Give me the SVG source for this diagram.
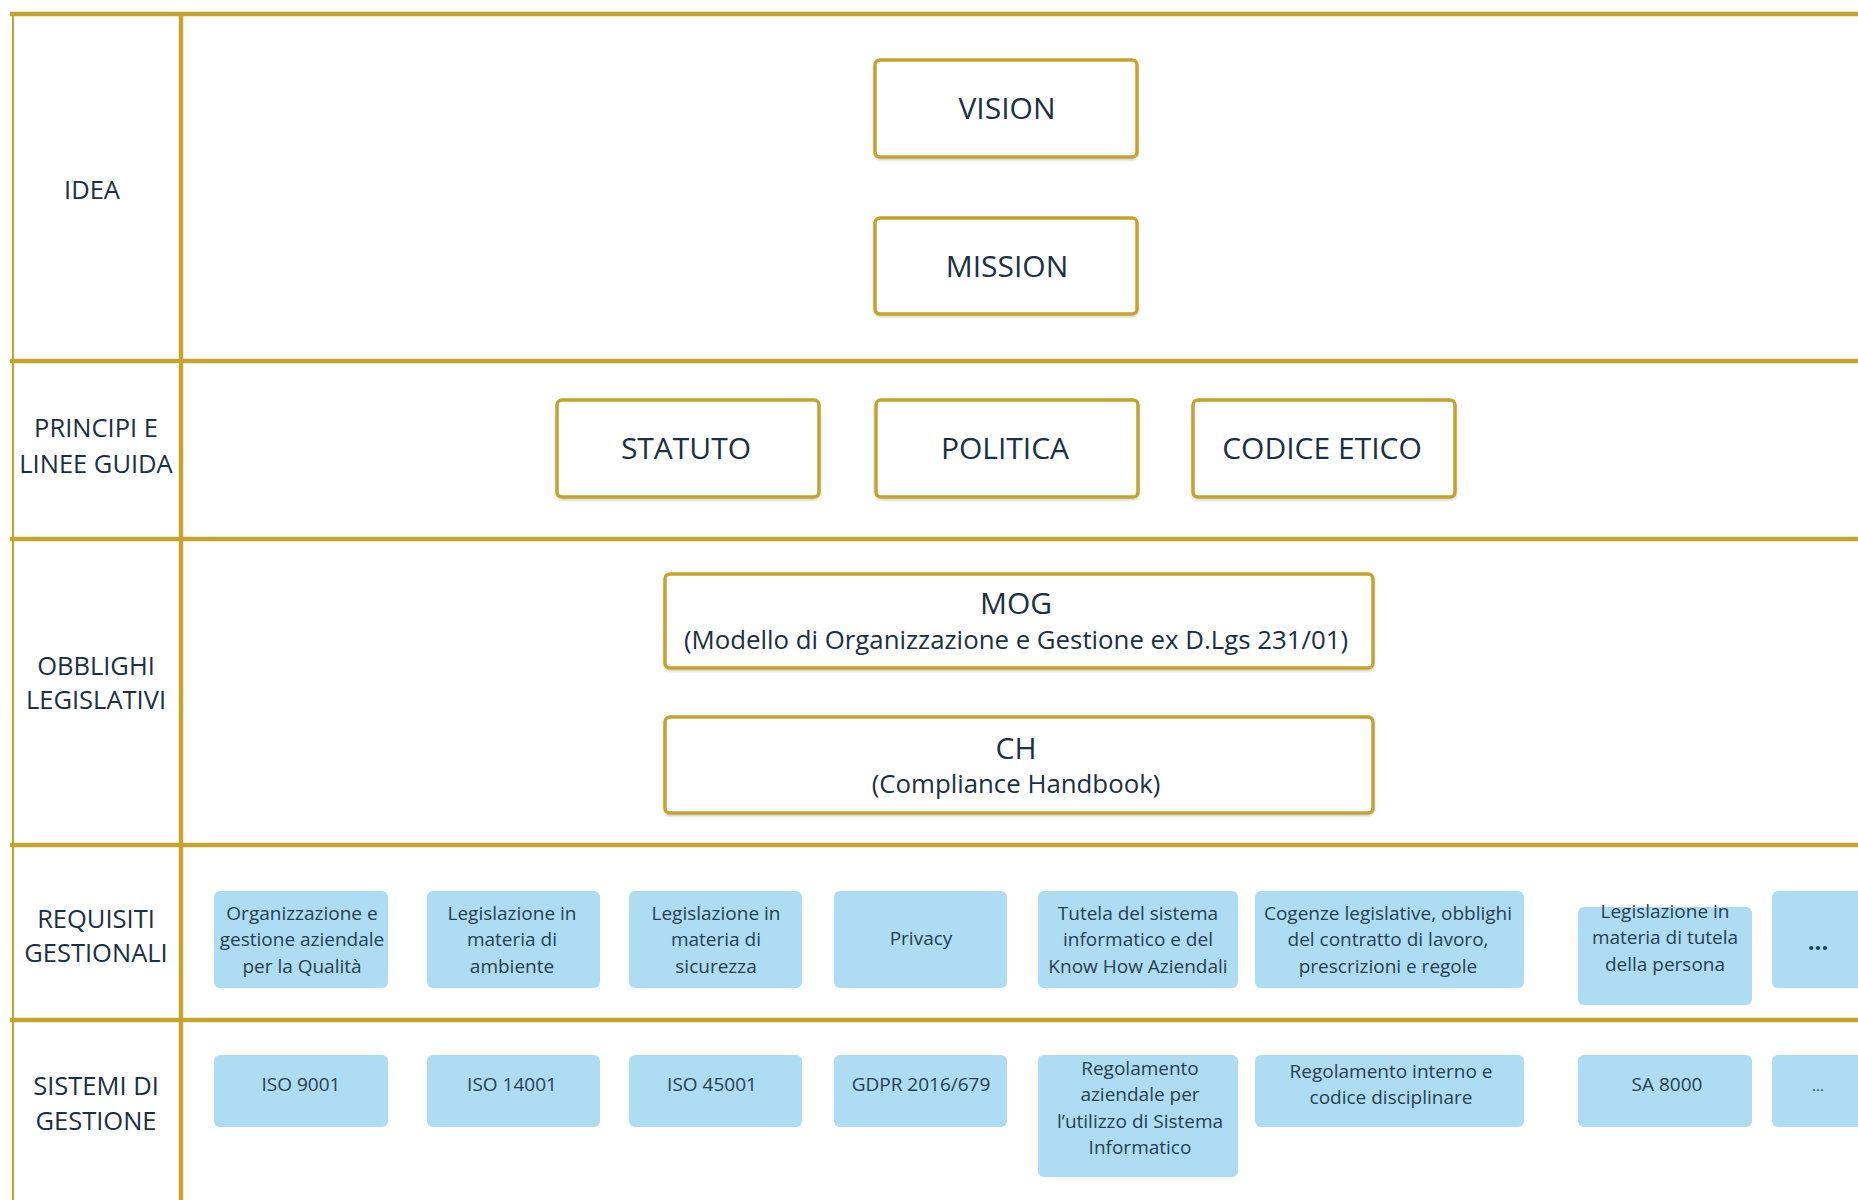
<svg xmlns="http://www.w3.org/2000/svg" width="1858" height="1200" viewBox="0 0 1858 1200">
<defs>
<filter id="sh" x="-5%" y="-5%" width="110%" height="115%"><feDropShadow dx="0" dy="1.5" stdDeviation="1.2" flood-color="#000" flood-opacity="0.18"/></filter>
</defs>
<style>
.grid{stroke:#C4A42C;fill:none}
.gb{fill:#fff;stroke:#C4A42C;stroke-width:3.5}
.bb{fill:#AEDCF2}
.hd{font-family:"Open Sans","Noto Sans",sans-serif;font-size:25.5px;fill:#1B3042;text-anchor:middle}
.big{font-family:"Open Sans","Noto Sans",sans-serif;font-size:30px;fill:#1B3042;text-anchor:middle}
.sub{font-family:"Open Sans","Noto Sans",sans-serif;font-size:25.8px;fill:#1B3042;text-anchor:middle}
.sm{font-family:"Open Sans","Noto Sans",sans-serif;font-size:19px;fill:#26405292;fill:#264052;text-anchor:middle}
</style>
<rect width="1858" height="1200" fill="#fff"/>
<g id="connectors">
<line class="grid" x1="10" y1="14" x2="1858" y2="14" stroke-width="4.5"/>
<line class="grid" x1="13" y1="12" x2="13" y2="1200" stroke-width="2"/>
<line class="grid" x1="181" y1="12" x2="181" y2="1200" stroke-width="4.5"/>
<line class="grid" x1="10" y1="361" x2="1858" y2="361" stroke-width="4.5"/>
<line class="grid" x1="10" y1="539" x2="1858" y2="539" stroke-width="4.5"/>
<line class="grid" x1="10" y1="845" x2="1858" y2="845" stroke-width="4.5"/>
<line class="grid" x1="10" y1="1020" x2="1858" y2="1020" stroke-width="4.5"/>
</g>
<g id="lbl-idea"><text class="hd" x="92" y="199">IDEA</text></g>
<g id="lbl-principi"><text class="hd" x="96" y="437">PRINCIPI E</text><text class="hd" x="96" y="473">LINEE GUIDA</text></g>
<g id="lbl-obblighi"><text class="hd" x="96" y="675">OBBLIGHI</text><text class="hd" x="96" y="709">LEGISLATIVI</text></g>
<g id="lbl-requisiti"><text class="hd" x="96" y="928">REQUISITI</text><text class="hd" x="96" y="962">GESTIONALI</text></g>
<g id="lbl-sistemi"><text class="hd" x="96" y="1095">SISTEMI DI</text><text class="hd" x="96" y="1130">GESTIONE</text></g>

<g id="vision"><rect class="gb" x="875" y="60" width="262" height="97" rx="5" filter="url(#sh)"/><text class="big" x="1007" y="119">VISION</text></g>
<g id="mission"><rect class="gb" x="875" y="218" width="262" height="96" rx="5" filter="url(#sh)"/><text class="big" x="1007" y="277">MISSION</text></g>
<g id="statuto"><rect class="gb" x="557" y="400" width="262" height="97" rx="5" filter="url(#sh)"/><text class="big" x="686" y="459">STATUTO</text></g>
<g id="politica"><rect class="gb" x="876" y="400" width="262" height="97" rx="5" filter="url(#sh)"/><text class="big" x="1005" y="459">POLITICA</text></g>
<g id="codice"><rect class="gb" x="1193" y="400" width="262" height="97" rx="5" filter="url(#sh)"/><text class="big" x="1322" y="459">CODICE ETICO</text></g>
<g id="mog"><rect class="gb" x="665" y="574" width="708" height="94" rx="5" filter="url(#sh)"/><text class="big" x="1016" y="614">MOG</text><text class="sub" x="1016" y="649">(Modello di Organizzazione e Gestione ex D.Lgs 231/01)</text></g>
<g id="ch"><rect class="gb" x="665" y="717" width="708" height="96" rx="5" filter="url(#sh)"/><text class="big" x="1016" y="759">CH</text><text class="sub" x="1016" y="793">(Compliance Handbook)</text></g>

<g id="req1"><rect class="bb" x="214" y="891" width="174" height="97" rx="6"/><text class="sm" x="302" y="919.5">Organizzazione e</text><text class="sm" x="302" y="946">gestione aziendale</text><text class="sm" x="302" y="972.5">per la Qualità</text></g>
<g id="req2"><rect class="bb" x="427" y="891" width="173" height="97" rx="6"/><text class="sm" x="512" y="919.5">Legislazione in</text><text class="sm" x="512" y="946">materia di</text><text class="sm" x="512" y="972.5">ambiente</text></g>
<g id="req3"><rect class="bb" x="629" y="891" width="173" height="97" rx="6"/><text class="sm" x="716" y="919.5">Legislazione in</text><text class="sm" x="716" y="946">materia di</text><text class="sm" x="716" y="972.5">sicurezza</text></g>
<g id="req4"><rect class="bb" x="834" y="891" width="173" height="97" rx="6"/><text class="sm" x="921" y="945">Privacy</text></g>
<g id="req5"><rect class="bb" x="1038" y="891" width="200" height="97" rx="6"/><text class="sm" x="1138" y="919.5">Tutela del sistema</text><text class="sm" x="1138" y="946">informatico e del</text><text class="sm" x="1138" y="972.5">Know How Aziendali</text></g>
<g id="req6"><rect class="bb" x="1255" y="891" width="269" height="97" rx="6"/><text class="sm" x="1388" y="919.5">Cogenze legislative, obblighi</text><text class="sm" x="1388" y="946">del contratto di lavoro,</text><text class="sm" x="1388" y="972.5">prescrizioni e regole</text></g>
<g id="req7"><rect class="bb" x="1578" y="907" width="174" height="98" rx="6"/><text class="sm" x="1665" y="918">Legislazione in</text><text class="sm" x="1665" y="944">materia di tutela</text><text class="sm" x="1665" y="971">della persona</text></g>
<g id="req8"><rect class="bb" x="1772" y="891" width="100" height="97" rx="6"/><text class="sm" x="1818" y="950" style="font-size:24px;font-weight:bold">...</text></g>

<g id="sis1"><rect class="bb" x="214" y="1055" width="174" height="72" rx="6"/><text class="sm" x="301" y="1091">ISO 9001</text></g>
<g id="sis2"><rect class="bb" x="427" y="1055" width="173" height="72" rx="6"/><text class="sm" x="512" y="1091">ISO 14001</text></g>
<g id="sis3"><rect class="bb" x="629" y="1055" width="173" height="72" rx="6"/><text class="sm" x="712" y="1091">ISO 45001</text></g>
<g id="sis4"><rect class="bb" x="834" y="1055" width="173" height="72" rx="6"/><text class="sm" x="921" y="1091">GDPR 2016/679</text></g>
<g id="sis5"><rect class="bb" x="1038" y="1055" width="200" height="122" rx="6"/><text class="sm" x="1140" y="1074.5">Regolamento</text><text class="sm" x="1140" y="1100.5">aziendale per</text><text class="sm" x="1140" y="1127.5">l’utilizzo di Sistema</text><text class="sm" x="1140" y="1153.5">Informatico</text></g>
<g id="sis6"><rect class="bb" x="1255" y="1055" width="269" height="72" rx="6"/><text class="sm" x="1391" y="1078">Regolamento interno e</text><text class="sm" x="1391" y="1104">codice disciplinare</text></g>
<g id="sis7"><rect class="bb" x="1578" y="1055" width="174" height="72" rx="6"/><text class="sm" x="1667" y="1091">SA 8000</text></g>
<g id="sis8"><rect class="bb" x="1772" y="1055" width="100" height="72" rx="6"/><text class="sm" x="1818" y="1091" style="font-size:15px">...</text></g>
</svg>
